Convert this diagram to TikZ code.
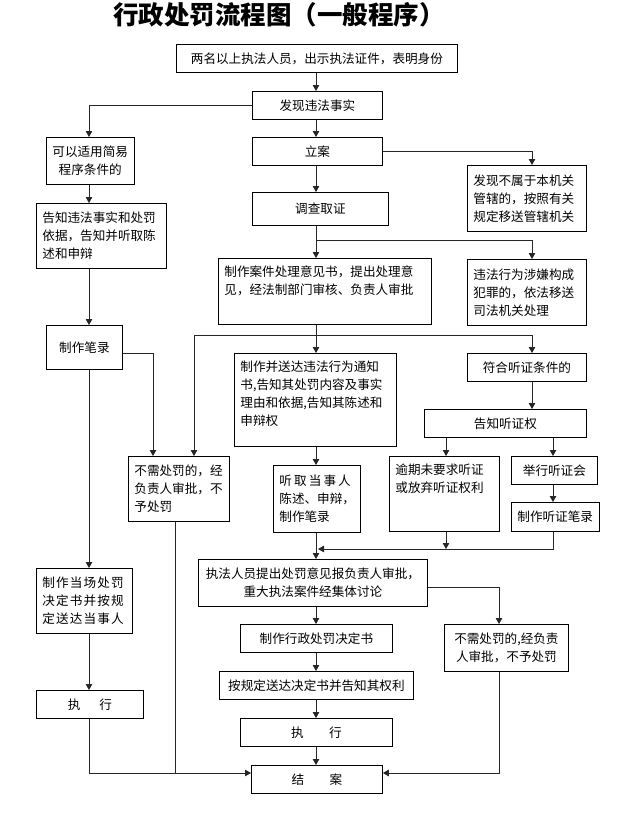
\documentclass[tikz,border=0pt]{standalone}
\usepackage{fontspec}
\setmainfont{Noto Sans CJK SC}
\usetikzlibrary{arrows.meta}

\begin{document}
\begin{tikzpicture}[x=1pt, y=-1pt,
  box/.style={draw, line width=0.8pt, anchor=north west, inner xsep=6pt, inner ysep=4pt,
    font=\fontsize{12.6}{18}\selectfont},
  cbox/.style={box, align=center},
  lbox/.style={box, align=left},
  line/.style={draw=black!85, line width=0.8pt},
  arrow/.style={line, -{Triangle[width=6.5pt, length=6pt]}}]

\useasboundingbox (0,0) rectangle (616,816);

\node[font=\bfseries\fontsize{25.5}{26}\selectfont] (title) at (279,15) {行政处罚流程图（一般程序）};

\node[cbox, minimum width=281pt, minimum height=28pt] (start) at (176,44) {两名以上执法人员，出示执法证件，表明身份};
\node[cbox, minimum width=130pt, minimum height=28pt] (find) at (252,91) {发现违法事实};
\node[cbox, minimum width=76pt, minimum height=47pt] (simple) at (46,137) {可以适用简易\\程序条件的};
\node[cbox, minimum width=130pt, minimum height=28pt] (case) at (252,137) {立案};
\node[lbox, text width=107pt, minimum height=66pt] (transfer) at (467,165) {发现不属于本机关\\管辖的，按照有关\\规定移送管辖机关};
\node[cbox, minimum width=136pt, minimum height=33pt] (survey) at (252,192) {调查取证};
\node[lbox, text width=118pt, minimum height=65pt] (inform) at (36,203) {告知违法事实和处罚\\依据，告知并听取陈\\述和申辩};
\node[lbox, text width=201pt, minimum height=66pt, text depth=41pt] (opinion) at (218,258) {制作案件处理意见书，提出处理意\\见，经法制部门审核、负责人审批};
\node[lbox, text width=107pt, minimum height=66pt] (crime) at (467,259) {违法行为涉嫌构成\\犯罪的，依法移送\\司法机关处理};
\node[cbox, minimum width=76pt, minimum height=44pt] (record) at (46,325) {制作笔录};
\node[lbox, text width=150pt, minimum height=93pt, text depth=68pt] (notice) at (234,353) {制作并送达违法行为通知\\书,告知其处罚内容及事实\\理由和依据,告知其陈述和\\申辩权};
\node[cbox, minimum width=119pt, minimum height=28pt] (hear) at (467,353) {符合听证条件的};
\node[cbox, minimum width=162pt, minimum height=28pt] (notify) at (424,409) {告知听证权};
\node[lbox, text width=89pt, minimum height=65pt] (nopen1) at (128,456) {不需处罚的，经\\负责人审批，不\\予处罚};
\node[lbox, text width=75pt, minimum height=67pt] (listen) at (273,465) {听\,取\,当\,事\,人\\陈述、申辩，\\制作笔录};
\node[lbox, text width=98pt, minimum height=75pt, text depth=50pt] (waive) at (389,456) {逾期未要求听证\\或放弃听证权利};
\node[cbox, minimum width=86pt, minimum height=28pt] (meet) at (511,456) {举行听证会};
\node[cbox, minimum width=86pt, minimum height=29pt] (hrec) at (511,502) {制作听证笔录};
\node[lbox, text width=84pt, minimum height=65pt] (spot) at (36,568) {\addfontfeature{LetterSpace=9}制作当场处罚\\决定书并按规\\定送达当事人};
\node[cbox, minimum width=229pt, minimum height=47pt] (report) at (198,559) {执法人员提出处罚意见报负责人审批，\\重大执法案件经集体讨论};
\node[cbox, minimum width=124pt, minimum height=47pt] (nopen2) at (444,624) {不需处罚的,经负责\\人审批，不予处罚};
\node[cbox, minimum width=152pt, minimum height=28pt] (decide) at (240,624) {制作行政处罚决定书};
\node[cbox, minimum width=194pt, minimum height=28pt] (deliver) at (219,671) {按规定送达决定书并告知其权利};
\node[cbox, minimum width=107pt, minimum height=28pt] (exec1) at (36,690) {执\hspace{1.5em}行};
\node[cbox, minimum width=152pt, minimum height=28pt] (exec2) at (240,718) {执\hspace{2em}行};
\node[cbox, minimum width=131pt, minimum height=28pt] (close) at (251,765) {结\hspace{2em}案};

\coordinate (sp) at (316,0);
\coordinate (lc) at (89,0);
\coordinate (rc) at (532,0);
\coordinate (hl) at (446,0);
\coordinate (hr) at (553,0);
\coordinate (nc) at (499,0);
\coordinate (na) at (153,0);
\coordinate (nb) at (194,0);
\coordinate (nd) at (175,0);
\coordinate (j1) at (316,240);
\coordinate (j2) at (316,335);
\coordinate (mrg) at (0,549);
\coordinate (bot) at (0,773);

\draw[arrow] (start.south -| sp) -- (find.north -| sp);
\draw[arrow] (find.west) -| (lc |- simple.north);
\draw[arrow] (find.south -| sp) -- (case.north -| sp);
\draw[arrow] (case.east) -| (rc |- transfer.north);
\draw[arrow] (case.south -| sp) -- (survey.north -| sp);
\draw[arrow] (survey.south -| sp) -- (opinion.north -| sp);
\draw[arrow] (j1) -| (rc |- crime.north);
\draw[arrow] (simple.south -| lc) -- (inform.north -| lc);
\draw[arrow] (inform.south -| lc) -- (record.north -| lc);
\draw[arrow] ([yshift=-6pt]record.east) -| (na |- nopen1.north);
\draw[arrow] (opinion.south -| sp) -- (notice.north -| sp);
\draw[arrow] (j2) -| (rc |- hear.north);
\draw[arrow] (j2) -| (nb |- nopen1.north);
\draw[arrow] (notice.south -| sp) -- (listen.north -| sp);
\draw[arrow] (hear.south -| rc) -- (rc |- notify.north);
\draw[arrow] (notify.south -| hl) -- (hl |- waive.north);
\draw[arrow] (notify.south -| hr) -- (hr |- meet.north);
\draw[arrow] (meet.south -| hr) -- (hr |- hrec.north);
\draw[arrow] (waive.south -| hl) -- (hl |- mrg);
\draw[arrow] (hrec.south -| hr) |- ([xshift=2pt]sp |- mrg);
\draw[arrow] (listen.south -| sp) -- (report.north -| sp);
\draw[arrow] ([yshift=-4.5pt]report.east) -| (nc |- nopen2.north);
\draw[arrow] (report.south -| sp) -- (decide.north -| sp);
\draw[arrow] (decide.south -| sp) -- (deliver.north -| sp);
\draw[arrow] (deliver.south -| sp) -- (exec2.north -| sp);
\draw[arrow] (exec2.south -| sp) -- (close.north -| sp);
\draw[arrow] (record.south -| lc) -- (spot.north -| lc);
\draw[arrow] (spot.south -| lc) -- (exec1.north -| lc);
\draw[arrow] (exec1.south -| lc) |- (close.west |- bot);
\draw[line] (nopen1.south -| nd) -- (nd |- bot);
\draw[arrow] (nopen2.south -| nc) |- (close.east |- bot);

\end{tikzpicture}
\end{document}
